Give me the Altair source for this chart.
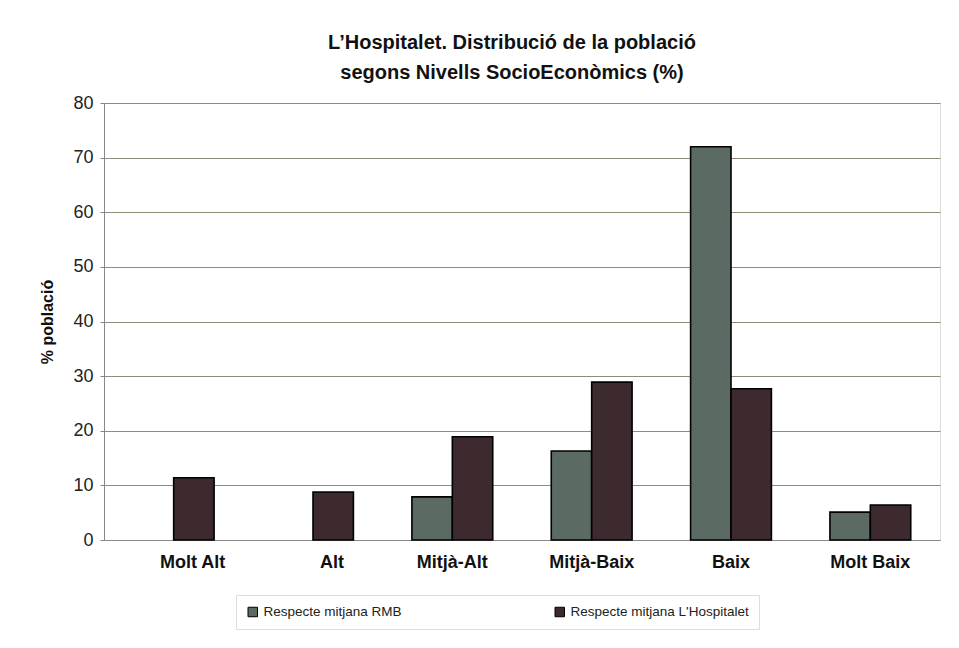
import altair as alt
import pandas as pd

categories = ["Molt Alt", "Alt", "Mitjà-Alt", "Mitjà-Baix", "Baix", "Molt Baix"]
series = ["Respecte mitjana RMB", "Respecte mitjana L'Hospitalet"]
rmb = [0, 0, 7.9, 16.3, 72.0, 5.1]
lh = [11.4, 8.8, 18.9, 28.9, 27.7, 6.4]
y_ticks = [0, 10, 20, 30, 40, 50, 60, 70, 80]

rows = []
for c, a, b in zip(categories, rmb, lh):
    rows.append({"cat": c, "serie": series[0], "value": a})
    rows.append({"cat": c, "serie": series[1], "value": b})
df = pd.DataFrame(rows)

FONT = "Liberation Sans, Arial, sans-serif"

chart = alt.Chart(df).mark_bar(stroke="black", strokeWidth=1.6).encode(
    x=alt.X("cat:N", sort=categories, title=None,
            scale=alt.Scale(paddingInner=0.42, paddingOuter=0.21),
            axis=alt.Axis(labelAngle=0, labelFont=FONT, labelFontSize=18, labelFontWeight="bold",
                          labelColor="#111", labelPadding=13, ticks=False, domainColor="#888",
                          labelOffset={"condition": {"test": "datum.value == 'Molt Alt' || datum.value == 'Alt'", "value": 19}, "value": 0})),
    xOffset=alt.XOffset("serie:N", sort=series),
    y=alt.Y("value:Q", title="% població",
            scale=alt.Scale(domain=[0, 80], nice=False),
            axis=alt.Axis(values=y_ticks, labelFont=FONT, labelFontSize=18, labelColor="#222",
                          tickSize=4, tickColor="#888", labelPadding=7, domainColor="#888",
                          gridColor="#8d8d78", gridWidth=1,
                          titleFont=FONT, titleFontSize=16, titleFontWeight="bold", titleColor="#111",
                          titlePadding=17)),
    color=alt.Color("serie:N", sort=series,
                    scale=alt.Scale(domain=series, range=["#5b6a63", "#3d2a2f"]),
                    legend=alt.Legend(title=None, orient="none", direction="horizontal",
                                      legendX=132, legendY=492, symbolType="square", symbolSize=90,
                                      symbolStrokeColor="black", symbolStrokeWidth=1,
                                      labelFont=FONT, labelFontSize=13.5, labelColor="#222",
                                      labelOffset=4, columnPadding=151, labelLimit=300,
                                      padding=10, strokeColor="#dddddd")),
    strokeOpacity=alt.condition("datum.value > 0", alt.value(1), alt.value(0)),
).properties(
    width=836, height=437,
    autosize=alt.AutoSizeParams(type="none"),
    padding={"left": 96, "top": 95, "right": 11, "bottom": 100},
    title=alt.TitleParams(text=["L\u2019Hospitalet. Distribució de la població",
                                "segons Nivells SocioEconòmics (%)"],
                          font=FONT, fontSize=20, fontWeight="bold", color="#111",
                          anchor="middle", dx=-10, offset=11, lineHeight=30),
).configure_view(fill="#fdf9c4", stroke="#999999", strokeWidth=1
).configure(background="white")

chart.save("out.html", embed_options={"renderer": "svg", "actions": False})
